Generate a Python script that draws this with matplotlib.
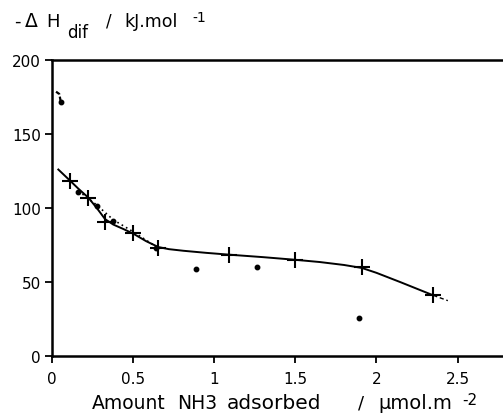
import matplotlib
matplotlib.use("Agg")
import matplotlib.pyplot as plt

plt.rcParams["font.family"] = ["DejaVu Sans"]

# Data
cross_x = [0.111, 0.224, 0.327, 0.502, 0.656, 1.088, 1.50, 1.91, 2.35]
cross_y = [118.5, 107, 90.8, 83, 72.8, 68.2, 65, 60, 41]

dot_x = [0.054, 0.163, 0.276, 0.378, 0.64, 0.889, 1.264, 1.89]
dot_y = [171.8, 110.6, 101.6, 91.4, 73, 58.8, 60.3, 26]

# short hook at very low coverage
hook_x = [0.025, 0.045, 0.054]
hook_y = [178.6, 177, 171.8]

# dotted trace through the low-coverage dots
dotted_x = [0.163, 0.276, 0.378, 0.5, 0.64]
dotted_y = [111.5, 102, 92, 84, 74]

# fitted curve
curve_x = [0.039, 0.111, 0.163, 0.224, 0.276, 0.327, 0.378, 0.44, 0.502,
           0.58, 0.656, 0.72, 0.81, 0.95, 1.088, 1.3, 1.5, 1.65, 1.8,
           1.91, 2.0, 2.15, 2.25, 2.35]
curve_y = [126, 118.5, 113, 107, 100, 92.5, 88.8, 85.8, 82.6,
           77.6, 73.6, 72.2, 71.1, 69.7, 68.5, 66.8, 65, 63.5, 61.5,
           59.5, 56.2, 49.8, 45.4, 41]
tail_x = [2.35, 2.44]
tail_y = [41, 37.4]

W, H = 503, 414
fig = plt.figure(figsize=(W / 100, H / 100), dpi=100)
ax = fig.add_axes([52 / W, 1 - 357 / H, 1 - 52 / W, (357 - 61) / H])

ax.plot(curve_x, curve_y, color="black", lw=1.4)
ax.plot(tail_x, tail_y, color="black", lw=1.0, ls=(0, (3, 2)))
ax.plot(dotted_x, dotted_y, color="black", lw=1.2, ls=(0, (1, 2)))
ax.plot(hook_x, hook_y, color="black", lw=1.6, ls=(0, (2, 1)))
ax.plot(cross_x, cross_y, ls="none", marker="+", ms=11, mew=1.5, color="black")
ax.plot(dot_x, dot_y, ls="none", marker="o", ms=3.2, color="black")

ax.set_xlim(0, 2.78)
ax.set_ylim(0, 200)
ax.set_xticks([0, 0.5, 1, 1.5, 2, 2.5])
ax.set_xticklabels(["0", "0.5", "1", "1.5", "2", "2.5"])
ax.set_yticks([0, 50, 100, 150, 200])

ax.spines["right"].set_visible(False)
for s in ["left", "top", "bottom"]:
    ax.spines[s].set_linewidth(1.8)
ax.tick_params(direction="out", length=5, width=1.3, labelsize=11)
ax.tick_params(axis="x", pad=6)
ax.tick_params(axis="y", pad=3)

# axis titles, placed word by word in pixel units
def put(x, y, s, size):
    fig.text(x / W, 1 - y / H, s, fontsize=size, ha="left", va="baseline")

put(92, 409, "Amount", 13.5)
put(177, 409, "NH3", 13.5)
put(227, 409, "adsorbed", 14.5)
put(358, 409, "/", 13)
put(378, 409, "µmol.m", 14)
put(462, 405, "-2", 11)

put(14, 27, "-", 13)
put(25, 27, "Δ", 13.5)
put(46, 27, "H", 13)
put(67, 38, "dif", 12)
put(106, 27, "/", 12)
put(124, 27, "kJ.mol", 12.5)
put(192, 22, "-1", 10)

fig.savefig("out.png", dpi=100)
